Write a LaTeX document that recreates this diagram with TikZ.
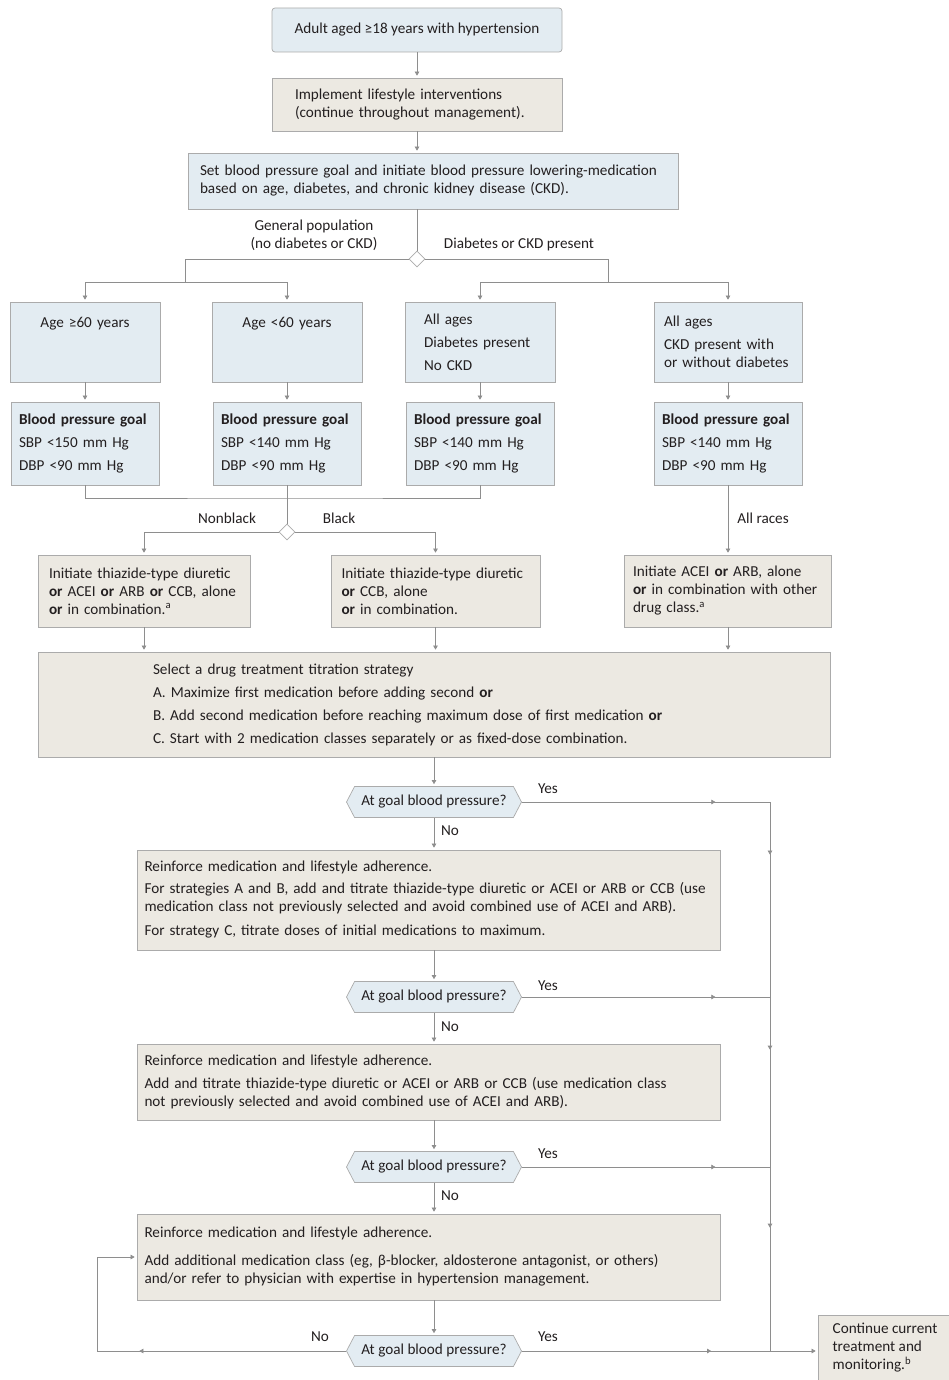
\documentclass[tikz,border=0pt]{standalone}
\usepackage{fontspec}
\setmainfont{Carlito}
\usetikzlibrary{arrows.meta,shapes.geometric,shapes.symbols,decorations.markings}

\definecolor{boxblue}{HTML}{E3ECF2}
\definecolor{boxbeige}{HTML}{ECE9E2}
\definecolor{edgegrey}{HTML}{ABABAB}
\definecolor{linegrey}{HTML}{8E8E8E}
\definecolor{inkgrey}{HTML}{231F20}

\newcommand{\fsmain}{\fontsize{15.2pt}{18pt}\selectfont}
\newcommand{\fsloose}{\fontsize{15.2pt}{23pt}\selectfont}

\tikzset{
  box/.style={draw=edgegrey, line width=0.7pt, inner sep=0pt, align=left, text=inkgrey},
  bluebox/.style={box, fill=boxblue},
  beigebox/.style={box, fill=boxbeige},
  split/.style={diamond, draw=edgegrey, fill=white, line width=0.7pt,
    minimum width=16pt, minimum height=16pt, inner sep=0pt},
  check/.style={signal, signal to=east and west, signal pointer angle=125,
    draw=edgegrey, fill=boxblue, line width=0.7pt, text=inkgrey,
    minimum width=175pt, minimum height=31pt, inner sep=0pt},
  lbl/.style={text=inkgrey, inner sep=0pt},
  conn/.style={draw=linegrey, line width=0.6pt},
  arr/.style={conn, -{Triangle[width=4.5pt,length=4pt]}, shorten >=2pt},
  midtip/.style={postaction={decorate, decoration={markings,
    mark=at position #1 with {\arrow{Triangle[width=4.5pt,length=4pt]}}}}}
}

\begin{document}
\begin{tikzpicture}[x=1pt, y=-1pt, font=\fsmain]
    \useasboundingbox (0,0) rectangle (949,1380);

    % Riquadri iniziali
    \node[bluebox, rounded corners=3pt, align=center, minimum width=290pt, minimum height=44pt]
        (adult) at (417,30) {Adult aged ≥18 years with hypertension};
    \node[beigebox, minimum width=290pt, minimum height=53pt, text width=244pt]
        (life) at (417,104.5) {Implement lifestyle interventions\\(continue throughout management).};
    \node[bluebox, minimum width=490pt, minimum height=56pt, text width=466pt]
        (setgoal) at (433,181) {Set blood pressure goal and initiate blood pressure lowering-medication\\based on age, diabetes, and chronic kidney disease (CKD).};

    % Prima biforcazione
    \node[split] (fork1) at (417,259) {};
    \node[lbl, align=center] (genpop) at (314,235) {General population\\(no diabetes or CKD)};
    \node[lbl] (dckd) at (519,244) {Diabetes or CKD present};
    \coordinate (genjoin) at (185,282);
    \coordinate (dckdjoin) at (608,282);

    % Gruppi di pazienti
    \node[bluebox, align=center, minimum width=150pt, minimum height=80pt, text width=130pt,
        text height=18pt, text depth=48pt] (age60) at (85,342) {Age ≥60 years};
    \node[bluebox, align=center, minimum width=150pt, minimum height=80pt, text width=130pt,
        text height=18pt, text depth=48pt] (age59) at (287,342) {Age <60 years};
    \node[bluebox, font=\fsloose, minimum width=150pt, minimum height=80pt, text width=112pt]
        (diab) at (480,342) {All ages\\Diabetes present\\No CKD};
    \node[bluebox, minimum width=148pt, minimum height=80pt, text width=128pt]
        (ckd) at (728,342) {All ages\\[5pt]CKD present with\\or without diabetes};

    % Obiettivi pressori
    \node[bluebox, font=\fsloose, minimum width=148pt, minimum height=83pt, text width=132pt]
        (goal1) at (85,443.5) {\textbf{Blood pressure goal}\\SBP <150 mm Hg\\DBP <90 mm Hg};
    \node[bluebox, font=\fsloose, minimum width=148pt, minimum height=83pt, text width=132pt]
        (goal2) at (287,443.5) {\textbf{Blood pressure goal}\\SBP <140 mm Hg\\DBP <90 mm Hg};
    \node[bluebox, font=\fsloose, minimum width=148pt, minimum height=83pt, text width=132pt]
        (goal3) at (480,443.5) {\textbf{Blood pressure goal}\\SBP <140 mm Hg\\DBP <90 mm Hg};
    \node[bluebox, font=\fsloose, minimum width=148pt, minimum height=83pt, text width=132pt]
        (goal4) at (728,443.5) {\textbf{Blood pressure goal}\\SBP <140 mm Hg\\DBP <90 mm Hg};

    % Seconda biforcazione (razza)
    \coordinate (racejoin) at (287,498);
    \node[split] (fork2) at (287,532) {};
    \node[lbl] (nonblack) at (227,518) {Nonblack};
    \node[lbl] (black) at (339,518) {Black};
    \node[lbl] (allraces) at (763,518) {All races};

    % Terapia iniziale
    \node[beigebox, minimum width=212pt, minimum height=72pt, text width=190pt]
        (drug1) at (144,591) {Initiate thiazide-type diuretic\\\textbf{or} ACEI \textbf{or} ARB \textbf{or} CCB, alone\\\textbf{or} in combination.\textsuperscript{a}};
    \node[beigebox, minimum width=209pt, minimum height=72pt, text width=188pt]
        (drug2) at (435.5,591) {Initiate thiazide-type diuretic\\\textbf{or} CCB, alone\\\textbf{or} in combination.};
    \node[beigebox, minimum width=207pt, minimum height=72pt, text width=190pt]
        (drug3) at (728,591) {Initiate ACEI \textbf{or} ARB, alone\\\textbf{or} in combination with other\\drug class.\textsuperscript{a}};

    % Strategia di titolazione
    \node[beigebox, font=\fsloose, minimum width=792pt, minimum height=105pt, text width=562pt]
        (titr) at (434,704.5) {Select a drug treatment titration strategy\\A. Maximize first medication before adding second \textbf{or}\\B. Add second medication before reaching maximum dose of first medication \textbf{or}\\C. Start with 2 medication classes separately or as fixed-dose combination.};

    % Controlli e rinforzi
    \node[check] (check1) at (434,802) {At goal blood pressure?};
    \node[beigebox, minimum width=583pt, minimum height=100pt, text width=568pt]
        (reinf1) at (428.5,900) {Reinforce medication and lifestyle adherence.\\[4pt]For strategies A and B, add and titrate thiazide-type diuretic or ACEI or ARB or CCB (use\\medication class not previously selected and avoid combined use of ACEI and ARB).\\[6pt]For strategy C, titrate doses of initial medications to maximum.};
    \node[check] (check2) at (434,997) {At goal blood pressure?};
    \node[beigebox, minimum width=583pt, minimum height=76pt, text width=568pt]
        (reinf2) at (428.5,1082) {Reinforce medication and lifestyle adherence.\\[5pt]Add and titrate thiazide-type diuretic or ACEI or ARB or CCB (use medication class\\not previously selected and avoid combined use of ACEI and ARB).};
    \node[check] (check3) at (434,1167) {At goal blood pressure?};
    \node[beigebox, minimum width=583pt, minimum height=86pt, text width=568pt]
        (reinf3) at (428.5,1257) {Reinforce medication and lifestyle adherence.\\[10pt]Add additional medication class (eg, β-blocker, aldosterone antagonist, or others)\\and/or refer to physician with expertise in hypertension management.};
    \node[check] (check4) at (434,1351) {At goal blood pressure?};
    \node[beigebox, minimum width=134pt, minimum height=65pt]
        (cont) at (885,1347.5) {Continue current\\treatment and\\monitoring.\textsuperscript{b}};

    % Etichette Yes / No
    \node[lbl] (yes1) at (548,789) {Yes};
    \node[lbl] (no1) at (450,831) {No};
    \node[lbl] (yes2) at (548,986) {Yes};
    \node[lbl] (no2) at (450,1027) {No};
    \node[lbl] (yes3) at (548,1154) {Yes};
    \node[lbl] (no3) at (450,1196) {No};
    \node[lbl] (yes4) at (548,1337) {Yes};
    \node[lbl] (no4) at (320,1337) {No};

    % Punti della linea di destra
    \coordinate (rail) at (770,0);
    \coordinate (rail1) at (check1.east -| rail);
    \coordinate (rail2) at (check2.east -| rail);
    \coordinate (rail3) at (check3.east -| rail);
    \coordinate (rail4) at (check4.east -| rail);
    \coordinate (loopback) at (97,1351);

    % Connettori parte alta
    \draw[arr] (adult) -- (life);
    \draw[arr] (life.south) -- (life.south |- setgoal.north);
    \draw[conn] (fork1 |- setgoal.south) -- (fork1.north);
    \draw[conn] (fork1.west) -| (genjoin);
    \draw[arr] (genjoin) -| (age60.north);
    \draw[arr] (genjoin) -| (age59.north);
    \draw[conn] (fork1.east) -| (dckdjoin);
    \draw[arr] (dckdjoin) -| (diab.north);
    \draw[arr] (dckdjoin) -| (ckd.north);
    \draw[arr] (age60) -- (goal1);
    \draw[arr] (age59) -- (goal2);
    \draw[arr] (diab) -- (goal3);
    \draw[arr] (ckd) -- (goal4);

    % Connettori verso la terapia
    \draw[conn] (goal1.south) |- (racejoin) -| (goal3.south);
    \draw[conn] (goal2.south) -- (fork2.north);
    \draw[arr] (fork2.west) -| (drug1.north);
    \draw[arr] (fork2.east) -| (drug2.north);
    \draw[arr] (goal4) -- (drug3);
    \draw[arr] (drug1.south) -- (drug1.south |- titr.north);
    \draw[arr] (drug2.south) -- (drug2.south |- titr.north);
    \draw[arr] (drug3.south) -- (drug3.south |- titr.north);

    % Connettori dei controlli
    \draw[arr] (titr.south -| check1) -- (check1.north);
    \draw[arr] (check1.south) -- (check1.south |- reinf1.north);
    \draw[arr] (reinf1.south -| check2) -- (check2.north);
    \draw[arr] (check2.south) -- (check2.south |- reinf2.north);
    \draw[arr] (reinf2.south -| check3) -- (check3.north);
    \draw[arr] (check3.south) -- (check3.south |- reinf3.north);
    \draw[arr] (reinf3.south -| check4) -- (check4.north);

    % Linea di destra (Yes)
    \draw[conn, midtip=0.78] (check1.east) -- (rail1);
    \draw[conn, midtip=0.78] (check2.east) -- (rail2);
    \draw[conn, midtip=0.78] (check3.east) -- (rail3);
    \draw[conn, midtip=0.27] (rail1) -- (rail2);
    \draw[conn, midtip=0.31] (rail2) -- (rail3);
    \draw[conn, midtip=0.33] (rail3) -- (rail4);
    \draw[arr, midtip=0.64] (check4.east) -- (check4.east -| cont.west);

    % Ritorno a sinistra (No)
    \draw[conn, midtip=0.83] (check4.west) -- (loopback);
    \draw[arr] (loopback) |- (reinf3.west);

\end{tikzpicture}
\end{document}
